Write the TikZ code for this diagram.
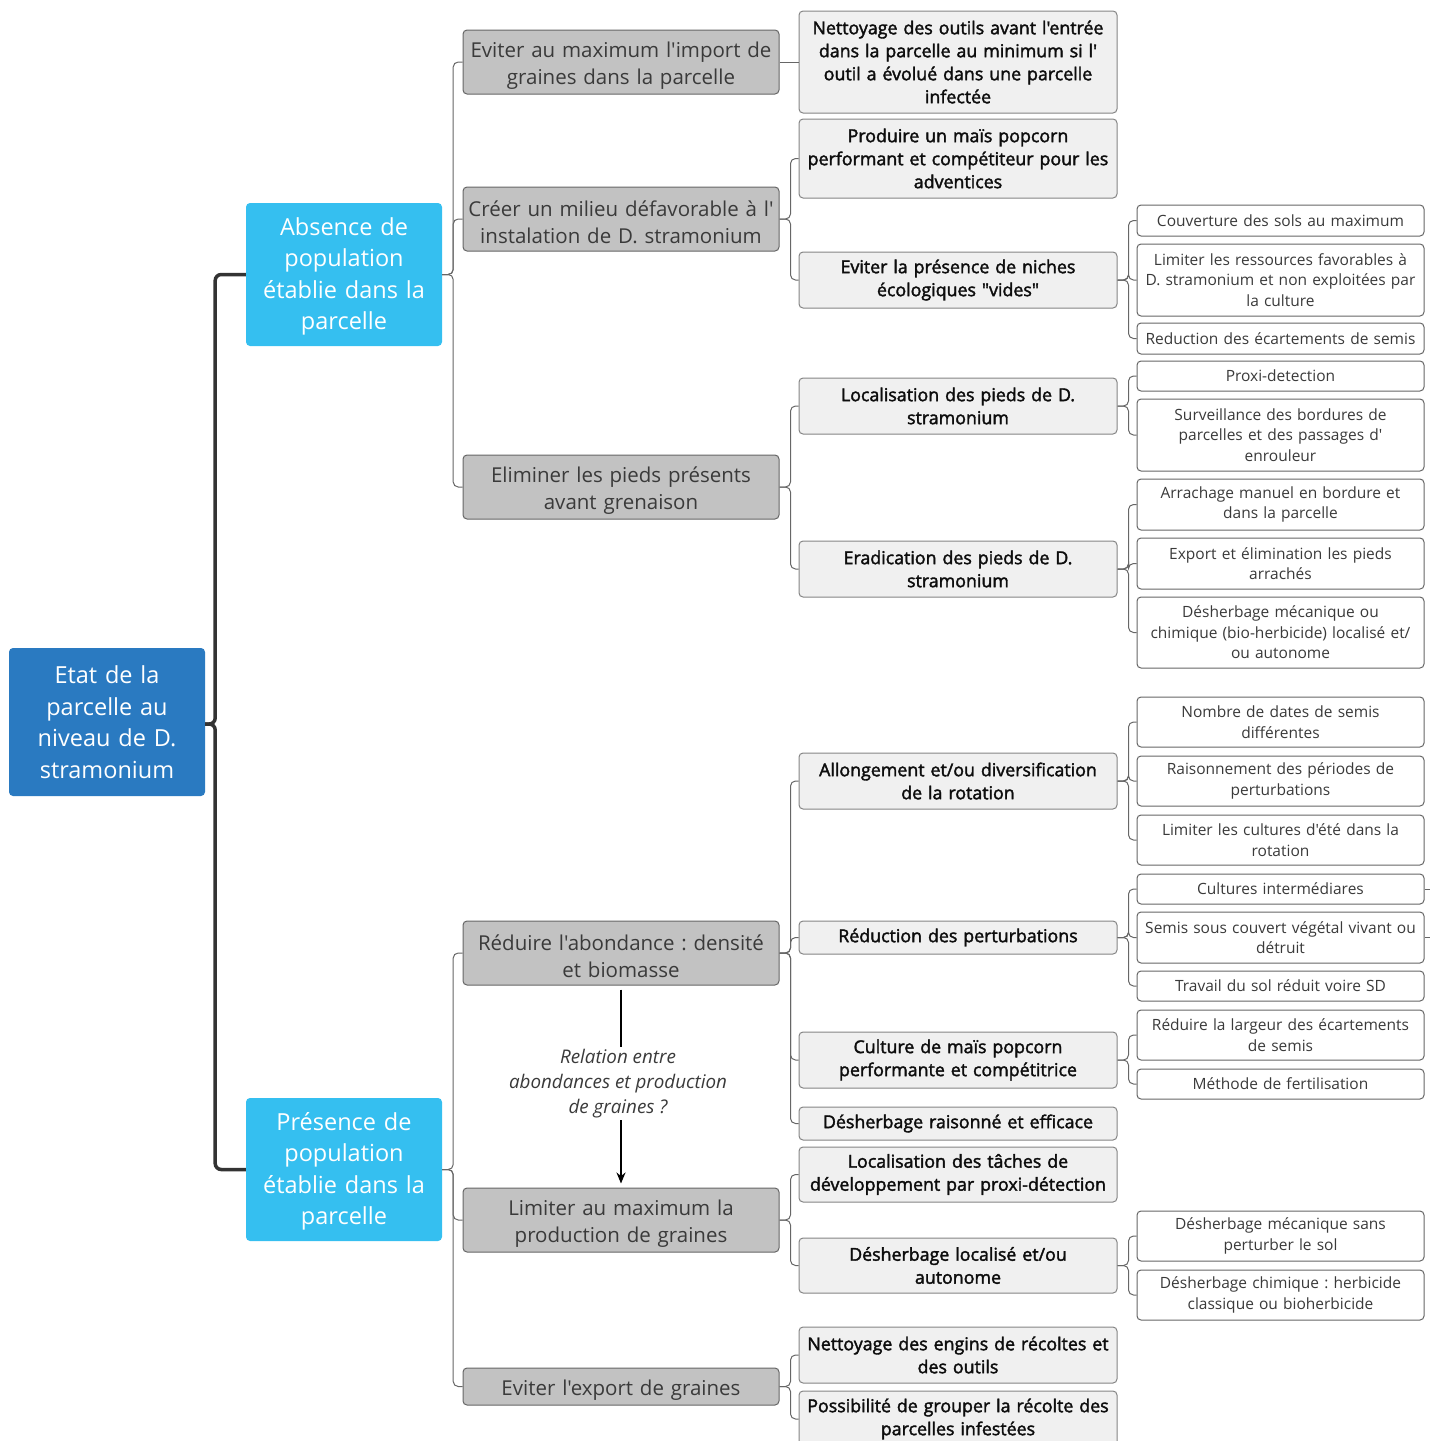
\documentclass[tikz,border=0pt]{standalone}
\usepackage{fontspec}
\setmainfont{Open Sans}[Ligatures=TeXOff]
\newfontfamily\semib{Open Sans}[Ligatures=TeXOff,FakeBold=2]
\usetikzlibrary{arrows.meta}
\frenchspacing
\definecolor{rootc}{HTML}{2A7AC1}
\definecolor{lonec}{HTML}{35BFF0}
\definecolor{ltwoc}{HTML}{C2C2C2}
\definecolor{lthreec}{HTML}{F0F0F0}
\definecolor{bord}{HTML}{666666}
\definecolor{txtd}{HTML}{3A3A3A}
\tikzset{
  base/.style={rectangle, rounded corners=4pt, align=center, inner xsep=2pt, inner ysep=0pt},
  plaintext/.style={align=center, inner sep=0pt},
  rootbox/.style={base, fill=rootc, text=white, minimum width=196pt, text width=190pt, font={\fontsize{23.5}{31.5}\selectfont}},
  onebox/.style={base, fill=lonec, minimum width=196pt, minimum height=143pt},
  onetxt/.style={plaintext, text=white, text width=190pt, yshift=-2pt, font={\fontsize{23.5}{31.5}\selectfont}},
  twobox/.style={base, fill=ltwoc, draw=bord, line width=1pt, minimum width=316pt},
  twotxt/.style={plaintext, text=txtd, text width=310pt, yshift=-3.5pt, font={\fontsize{20.5}{27}\selectfont}},
  threebox/.style={base, fill=lthreec, draw=bord!80, line width=1pt, text=black!95, minimum width=316pt, text width=314pt, font={\semib\fontsize{17.8}{23}\selectfont}},
  fourbox/.style={base, fill=white, draw=bord, line width=1pt, text=txtd, minimum width=285pt, text width=283pt, font={\fontsize{15.5}{20.5}\selectfont}},
  conn/.style={draw=bord, line width=1pt, rounded corners=5pt},
  thickconn/.style={draw=black!80, line width=3.5pt, rounded corners=6pt},
  rel/.style={draw=black, line width=2.2pt, -{Stealth[length=11pt,width=9pt]}},
  rellabel/.style={fill=white, text=txtd, align=center, inner sep=2pt, yshift=3pt, font={\itshape\fontsize{18.8}{25}\selectfont}}
}
\begin{document}
\begin{tikzpicture}[x=1pt,y=-1pt]
\useasboundingbox (0,0) rectangle (1434,1441);
% root and level 1
\node[rootbox, minimum height=148pt] (root) at (107,722) {Etat de la\\parcelle au\\niveau de D.\\stramonium};
\node[onebox] (abs) at (344,274.5) {};
\node[onetxt] (abs-t) at (abs.center) {Absence de\\population\\établie dans la\\parcelle};
\node[onebox] (pres) at (344,1169.5) {};
\node[onetxt] (pres-t) at (pres.center) {Présence de\\population\\établie dans la\\parcelle};
% level 2
\node[twobox, minimum height=64pt] (imp) at (621,62) {};
\node[twotxt] (imp-t) at (imp.center) {Eviter au maximum l'import de\\graines dans la parcelle};
\node[twobox, minimum height=64pt] (mil) at (621,219) {};
\node[twotxt] (mil-t) at (mil.center) {Créer un milieu défavorable à l'\\instalation de D. stramonium};
\node[twobox, minimum height=64pt] (eli) at (621,487) {};
\node[twotxt] (eli-t) at (eli.center) {Eliminer les pieds présents\\avant grenaison};
\node[twobox, minimum height=64pt] (red) at (621,953) {};
\node[twotxt] (red-t) at (red.center) {Réduire l'abondance : densité\\et biomasse};
\node[twobox, minimum height=64pt] (lim) at (621,1220) {};
\node[twotxt] (lim-t) at (lim.center) {Limiter au maximum la\\production de graines};
\node[twobox, minimum height=37pt] (exp) at (621,1386.5) {};
\node[twotxt] (exp-t) at (exp.center) {Eviter l'export de graines};
% level 3
\node[threebox, minimum height=102pt] (net) at (958,62) {Nettoyage des outils avant l'entrée\\dans la parcelle au minimum si l'\\outil a évolué dans une parcelle\\infectée};
\node[threebox, minimum height=79pt] (prod) at (958,158.5) {Produire un maïs popcorn\\performant et compétiteur pour les\\adventices};
\node[threebox, minimum height=56pt] (niche) at (958,280) {Eviter la présence de niches\\écologiques "vides"};
\node[threebox, minimum height=56pt] (locp) at (958,406) {Localisation des pieds de D.\\stramonium};
\node[threebox, minimum height=56pt] (erad) at (958,569) {Eradication des pieds de D.\\stramonium};
\node[threebox, minimum height=56pt] (allong) at (958,781) {Allongement et/ou diversification\\de la rotation};
\node[threebox, minimum height=33pt] (redp) at (958,937.5) {Réduction des perturbations};
\node[threebox, minimum height=56pt] (cult) at (958,1060) {Culture de maïs popcorn\\performante et compétitrice};
\node[threebox, minimum height=33pt] (desr) at (958,1123.5) {Désherbage raisonné et efficace};
\node[threebox, minimum height=55pt] (loct) at (958,1174.5) {Localisation des tâches de\\développement par proxi-détection};
\node[threebox, minimum height=55pt] (desl) at (958,1265.5) {Désherbage localisé et/ou\\autonome};
\node[threebox, minimum height=56pt] (nete) at (958,1355) {Nettoyage des engins de récoltes et\\des outils};
\node[threebox, minimum height=56pt] (poss) at (958,1419) {Possibilité de grouper la récolte des\\parcelles infestées};
% level 4
\node[fourbox, minimum height=31pt] (c1) at (1280.5,220.5) {Couverture des sols au maximum};
\node[fourbox, minimum height=72pt] (c2) at (1280.5,280) {Limiter les ressources favorables à\\D. stramonium et non exploitées par\\la culture};
\node[fourbox, minimum height=31pt] (c3) at (1280.5,338.5) {Reduction des écartements de semis};
\node[fourbox, minimum height=30pt] (c4) at (1280.5,376) {Proxi-detection};
\node[fourbox, minimum height=72pt] (c5) at (1280.5,435) {Surveillance des bordures de\\parcelles et des passages d'\\enrouleur};
\node[fourbox, minimum height=51pt] (c6) at (1280.5,504.5) {Arrachage manuel en bordure et\\dans la parcelle};
\node[fourbox, minimum height=51pt] (c7) at (1280.5,563.5) {Export et élimination les pieds\\arrachés};
\node[fourbox, minimum height=71pt] (c8) at (1280.5,632.5) {Désherbage mécanique ou\\chimique (bio-herbicide) localisé et/\\ou autonome};
\node[fourbox, minimum height=50pt] (c9) at (1280.5,722) {Nombre de dates de semis\\différentes};
\node[fourbox, minimum height=50pt] (c10) at (1280.5,781) {Raisonnement des périodes de\\perturbations};
\node[fourbox, minimum height=50pt] (c11) at (1280.5,840) {Limiter les cultures d'été dans la\\rotation};
\node[fourbox, minimum height=30pt] (c12) at (1280.5,889) {Cultures intermédiares};
\node[fourbox, minimum height=51pt] (c13) at (1280.5,937.5) {Semis sous couvert végétal vivant ou\\détruit};
\node[fourbox, minimum height=30pt] (c14) at (1280.5,986) {Travail du sol réduit voire SD};
\node[fourbox, minimum height=50pt] (c15) at (1280.5,1035) {Réduire la largeur des écartements\\de semis};
\node[fourbox, minimum height=30pt] (c16) at (1280.5,1084) {Méthode de fertilisation};
\node[fourbox, minimum height=50pt] (c17) at (1280.5,1236) {Désherbage mécanique sans\\perturber le sol};
\node[fourbox, minimum height=50pt] (c18) at (1280.5,1295) {Désherbage chimique : herbicide\\classique ou bioherbicide};
% connectors
\foreach \c in {abs,pres} \draw[thickconn] ([yshift=-2pt]root.east) -- ++(10,0) |- (\c.west);
\foreach \c in {imp,mil,eli} \draw[conn] (abs.east) -- ++(11,0) |- (\c.west);
\foreach \c in {red,lim,exp} \draw[conn] (pres.east) -- ++(11,0) |- (\c.west);
\draw[conn] (imp.east) -- (net.west);
\foreach \c in {prod,niche} \draw[conn] (mil.east) -- ++(11,0) |- (\c.west);
\foreach \c in {locp,erad} \draw[conn] (eli.east) -- ++(11,0) |- (\c.west);
\foreach \c in {allong,redp,cult,desr} \draw[conn] (red.east) -- ++(11,0) |- (\c.west);
\foreach \c in {loct,desl} \draw[conn] (lim.east) -- ++(11,0) |- (\c.west);
\foreach \c in {nete,poss} \draw[conn] (exp.east) -- ++(11,0) |- (\c.west);
\foreach \c in {c1,c2,c3} \draw[conn] (niche.east) -- ++(11,0) |- (\c.west);
\foreach \c in {c4,c5} \draw[conn] (locp.east) -- ++(11,0) |- (\c.west);
\foreach \c in {c6,c7,c8} \draw[conn] (erad.east) -- ++(11,0) |- (\c.west);
\foreach \c in {c9,c10,c11} \draw[conn] (allong.east) -- ++(11,0) |- (\c.west);
\foreach \c in {c12,c13,c14} \draw[conn] (redp.east) -- ++(11,0) |- (\c.west);
\foreach \c in {c15,c16} \draw[conn] (cult.east) -- ++(11,0) |- (\c.west);
\foreach \c in {c17,c18} \draw[conn] (desl.east) -- ++(11,0) |- (\c.west);
\coordinate (s12) at ([xshift=5pt]c12.east);
\coordinate (s13) at ([xshift=5pt]c13.east);
\draw[conn] (c12.east) -- (s12);
\draw[conn] (c13.east) -- (s13);
% relation arrow
\draw[rel] ([yshift=-4pt]red.south) -- node[rellabel, xshift=-3pt] {Relation entre\\abondances et production\\de graines ?} ([yshift=4pt]lim.north);
\end{tikzpicture}
\end{document}
